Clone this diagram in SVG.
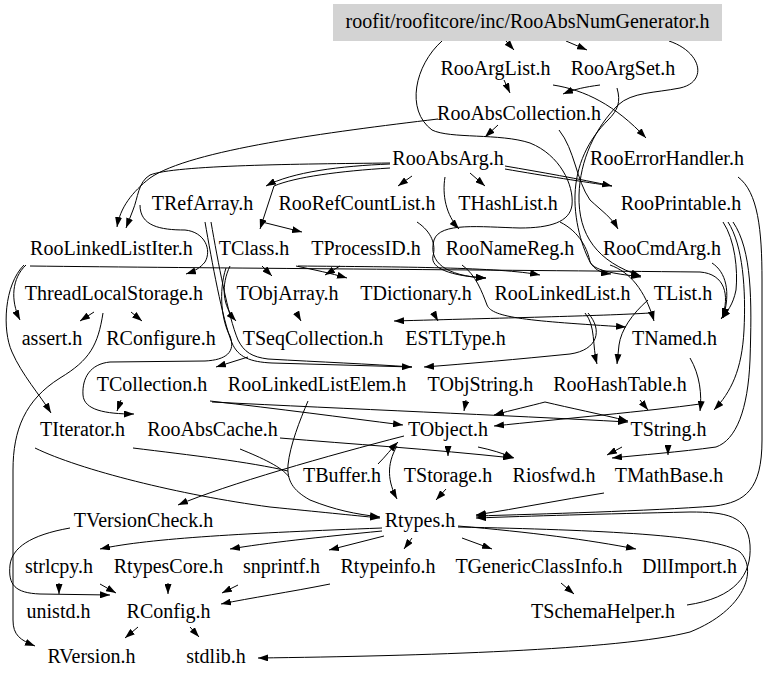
<svg xmlns="http://www.w3.org/2000/svg" width="768" height="681" viewBox="0 0 768 681">
<style>
.t text{font-size:20px;text-anchor:middle;fill:#000}
.e path{fill:none;stroke:#000;stroke-width:1}
.e path.a{marker-end:url(#arr)}
</style>
<defs>
<marker id="arr" markerWidth="10" markerHeight="7" refX="10" refY="3.5" orient="auto" markerUnits="userSpaceOnUse"><path d="M0,0 L10,3.5 L0,7 z" fill="#000"/></marker>
</defs>
<rect width="768" height="681" fill="#fff"/>
<g class="e" id="edges">
<path class="a" d="M506,41 L514,50"/>
<path class="a" d="M566,41 L587,50"/>
<path class="a" d="M442,41 C415,65 405,110 432,130 C450,139 500,133 530,143 C560,155 574,185 572,205 C570,222 550,228 520,228 C480,227 440,222 434,240 C428,262 445,276 486,278"/>
<path class="a" d="M669,41 C702,52 708,82 680,88 C655,93 632,92 618,105 C595,128 580,160 579,195 C578,235 597,262 641,276"/>
<path class="a" d="M504,80 L510,93"/>
<path class="a" d="M600,85 C585,87 575,89 563,94"/>
<path class="a" d="M553,85 C585,90 615,105 646,138"/>
<path class="a" d="M617,88 C621,102 618,110 608,120 C588,140 576,165 575,195 C574,225 585,255 592,265 C597,271 602,273 611,274"/>
<path class="a" d="M498,125 L485,137"/>
<path class="a" d="M438,119 C330,132 190,150 150,178 C132,192 120,208 117,227"/>
<path class="a" d="M390,163 C300,164 175,165 150,175 C138,182 138,198 133,210 L126,228"/>
<path class="a" d="M390,164 C340,166 292,172 266,186"/>
<path class="a" d="M390,168 C340,171 295,177 274,186 L260,229"/>
<path class="a" d="M412,176 L398,186"/>
<path class="a" d="M470,173 L485,186"/>
<path class="a" d="M445,177 C442,195 446,215 459,229"/>
<path class="a" d="M505,166 C540,172 580,179 612,186"/>
<path d="M505,169 C545,176 585,182 612,186"/>
<path class="a" d="M559,130 C575,150 576,180 590,200 C603,212 612,218 618,229"/>
<path class="a" d="M262,222 L302,232"/>
<path class="a" d="M140,205 C140,226 160,230 185,230 C205,232 212,250 205,262 C200,268 195,271 186,274"/>
<path class="a" d="M205,222 C212,262 222,318 232,343 C238,357 250,362 272,363 L412,367"/>
<path d="M211,222 C218,262 228,316 238,340 C244,352 252,357 268,359 C320,362 370,364 412,367"/>
<path class="a" d="M230,266 C221,285 222,306 236,321"/>
<path class="a" d="M226,268 C218,292 222,322 230,336 C236,352 226,360 205,361 L110,362 C90,364 82,378 83,395 C84,410 105,414 134,414"/>
<path class="a" d="M262,266 L272,276"/>
<path class="a" d="M340,266 L325,275"/>
<path class="a" d="M296,266 C315,270 330,273 347,278"/>
<path class="a" d="M30,266 C200,268 500,270 700,272 C725,274 730,295 722,318"/>
<path class="a" d="M298,266 C400,267 500,267 540,275"/>
<path class="a" d="M26,265 C12,278 10,300 20,320"/>
<path class="a" d="M24,265 C4,285 2,330 12,352 C22,375 40,395 51,413"/>
<path class="a" d="M103,313 C98,345 90,360 60,378 C25,400 13,430 13,470 L13,620 C13,635 20,640 35,646"/>
<path class="a" d="M94,312 L80,321"/>
<path class="a" d="M131,312 L142,321"/>
<path class="a" d="M417,222 C432,232 436,245 433,256 C430,268 450,276 486,278"/>
<path class="a" d="M560,222 C580,232 588,250 590,262 C595,272 620,274 641,277"/>
<path class="a" d="M296,312 L301,321"/>
<path class="a" d="M433,312 L438,321"/>
<path class="a" d="M650,313 C600,316 500,318 394,321"/>
<path class="a" d="M462,265 C476,275 482,292 487,305 C492,318 530,321 626,327"/>
<path class="a" d="M585,313 C596,326 592,346 597,364"/>
<path class="a" d="M648,300 C632,314 621,330 619,345 L617,364"/>
<path class="a" d="M588,313 C603,330 598,350 570,354 C520,359 465,364 424,367"/>
<path class="a" d="M610,265 C630,272 645,290 654,321"/>
<path class="a" d="M723,222 C735,240 738,270 736,290 C733,305 727,312 721,319"/>
<path class="a" d="M712,263 C726,272 731,292 723,318"/>
<path class="a" d="M728,222 C743,245 746,290 744,330 C742,370 731,392 714,410"/>
<path class="a" d="M733,222 C752,250 752,300 750,360 C748,410 736,440 716,447 C680,452 640,455 612,458"/>
<path class="a" d="M738,177 C758,192 762,230 762,280 L762,440 C762,490 745,502 715,506 C650,511 540,514 476,516"/>
<path class="a" d="M690,358 C700,375 702,395 700,411"/>
<path class="a" d="M700,404 C650,411 560,419 494,426"/>
<path class="a" d="M545,402 C530,406 512,410 494,415"/>
<path class="a" d="M545,402 C570,408 600,414 628,421"/>
<path class="a" d="M640,400 L648,410"/>
<path class="a" d="M466,400 L464,411"/>
<path class="a" d="M210,401 C280,409 340,417 403,425"/>
<path class="a" d="M212,402 C350,409 500,415 628,422"/>
<path class="a" d="M248,357 L216,367"/>
<path class="a" d="M121,400 L117,411"/>
<path class="a" d="M448,446 L448,456"/>
<path class="a" d="M478,447 C492,450 502,453 514,458"/>
<path class="a" d="M280,438 C350,444 430,449 513,458"/>
<path class="a" d="M404,436 C330,455 225,485 178,505"/>
<path class="a" d="M397,446 C386,465 388,482 397,499"/>
<path class="a" d="M378,464 C386,456 391,449 398,442"/>
<path class="a" d="M446,489 L436,500"/>
<path class="a" d="M604,493 C560,500 520,508 476,515"/>
<path class="a" d="M668,447 L668,455"/>
<path class="a" d="M622,447 L607,455"/>
<path class="a" d="M308,401 C300,420 290,445 288,465 C287,480 292,490 310,500 C335,510 355,514 380,517"/>
<path d="M240,449 C262,458 282,467 289,477"/>
<path class="a" d="M35,448 C80,470 180,495 270,507 C320,512 350,515 380,518"/>
<path d="M133,448 C190,455 250,462 288,471"/>
<path class="a" d="M70,528 C30,535 12,548 10,565 C8,585 15,593 40,594 L110,595"/>
<path class="a" d="M382,528 C250,533 150,538 100,549"/>
<path class="a" d="M382,531 C320,537 265,543 230,549"/>
<path class="a" d="M384,536 L329,550"/>
<path class="a" d="M412,538 L404,549"/>
<path class="a" d="M462,538 L492,549"/>
<path class="a" d="M458,526 C530,532 590,540 636,549"/>
<path class="a" d="M458,527 C600,530 715,535 740,552 C758,570 745,610 690,632 C620,650 420,656 258,658"/>
<path class="a" d="M687,605 C735,598 752,575 750,545 C748,515 725,512 690,512 C600,514 530,516 476,518"/>
<path class="a" d="M561,583 L574,594"/>
<path class="a" d="M59,583 L59,594"/>
<path class="a" d="M100,584 L116,593"/>
<path class="a" d="M168,583 L168,594"/>
<path class="a" d="M238,585 L222,593"/>
<path class="a" d="M330,584 C290,592 250,598 221,604"/>
<path class="a" d="M138,627 L125,638"/>
<path class="a" d="M190,627 L199,637"/>
</g>
<g class="t" font-family="'Liberation Serif', 'Times New Roman', Times, 'DejaVu Serif', serif">
<g id="n-RooAbsNumGenerator"><rect x="333" y="4" width="389" height="37" fill="#d3d3d3"/><text x="527.5" y="28">roofit/roofitcore/inc/RooAbsNumGenerator.h</text></g>
<g id="n-RooArgList"><text x="495.5" y="75">RooArgList.h</text></g>
<g id="n-RooArgSet"><text x="623" y="75">RooArgSet.h</text></g>
<g id="n-RooAbsCollection"><text x="519" y="120">RooAbsCollection.h</text></g>
<g id="n-RooAbsArg"><text x="448" y="165">RooAbsArg.h</text></g>
<g id="n-RooErrorHandler"><text x="667" y="165">RooErrorHandler.h</text></g>
<g id="n-TRefArray"><text x="202.5" y="210">TRefArray.h</text></g>
<g id="n-RooRefCountList"><text x="357" y="210">RooRefCountList.h</text></g>
<g id="n-THashList"><text x="508" y="210">THashList.h</text></g>
<g id="n-RooPrintable"><text x="681" y="210">RooPrintable.h</text></g>
<g id="n-RooLinkedListIter"><text x="111.5" y="255">RooLinkedListIter.h</text></g>
<g id="n-TClass"><text x="254" y="255">TClass.h</text></g>
<g id="n-TProcessID"><text x="366" y="255">TProcessID.h</text></g>
<g id="n-RooNameReg"><text x="510" y="255">RooNameReg.h</text></g>
<g id="n-RooCmdArg"><text x="662" y="255">RooCmdArg.h</text></g>
<g id="n-ThreadLocalStorage"><text x="114" y="300">ThreadLocalStorage.h</text></g>
<g id="n-TObjArray"><text x="287.5" y="300">TObjArray.h</text></g>
<g id="n-TDictionary"><text x="416" y="300">TDictionary.h</text></g>
<g id="n-RooLinkedList"><text x="562.5" y="300">RooLinkedList.h</text></g>
<g id="n-TList"><text x="683" y="300">TList.h</text></g>
<g id="n-assert"><text x="52" y="345">assert.h</text></g>
<g id="n-RConfigure"><text x="161" y="345">RConfigure.h</text></g>
<g id="n-TSeqCollection"><text x="313" y="345">TSeqCollection.h</text></g>
<g id="n-ESTLType"><text x="455.5" y="345">ESTLType.h</text></g>
<g id="n-TNamed"><text x="674.5" y="345">TNamed.h</text></g>
<g id="n-TCollection"><text x="152" y="391">TCollection.h</text></g>
<g id="n-RooLinkedListElem"><text x="317" y="391">RooLinkedListElem.h</text></g>
<g id="n-TObjString"><text x="480.5" y="391">TObjString.h</text></g>
<g id="n-RooHashTable"><text x="620" y="391">RooHashTable.h</text></g>
<g id="n-TIterator"><text x="82.5" y="436">TIterator.h</text></g>
<g id="n-RooAbsCache"><text x="212.5" y="436">RooAbsCache.h</text></g>
<g id="n-TObject"><text x="448" y="436">TObject.h</text></g>
<g id="n-TString"><text x="668.5" y="436">TString.h</text></g>
<g id="n-TBuffer"><text x="342" y="482">TBuffer.h</text></g>
<g id="n-TStorage"><text x="448" y="482">TStorage.h</text></g>
<g id="n-Riosfwd"><text x="554" y="482">Riosfwd.h</text></g>
<g id="n-TMathBase"><text x="669" y="482">TMathBase.h</text></g>
<g id="n-TVersionCheck"><text x="143.5" y="527">TVersionCheck.h</text></g>
<g id="n-Rtypes"><text x="420" y="527">Rtypes.h</text></g>
<g id="n-strlcpy"><text x="59" y="573">strlcpy.h</text></g>
<g id="n-RtypesCore"><text x="168.5" y="573">RtypesCore.h</text></g>
<g id="n-snprintf"><text x="281.5" y="573">snprintf.h</text></g>
<g id="n-Rtypeinfo"><text x="388" y="573">Rtypeinfo.h</text></g>
<g id="n-TGenericClassInfo"><text x="539" y="573">TGenericClassInfo.h</text></g>
<g id="n-DllImport"><text x="689.5" y="573">DllImport.h</text></g>
<g id="n-unistd"><text x="58.5" y="618">unistd.h</text></g>
<g id="n-RConfig"><text x="168.5" y="618">RConfig.h</text></g>
<g id="n-TSchemaHelper"><text x="603" y="618">TSchemaHelper.h</text></g>
<g id="n-RVersion"><text x="91.5" y="663">RVersion.h</text></g>
<g id="n-stdlib"><text x="216" y="663">stdlib.h</text></g>
</g>
</svg>
